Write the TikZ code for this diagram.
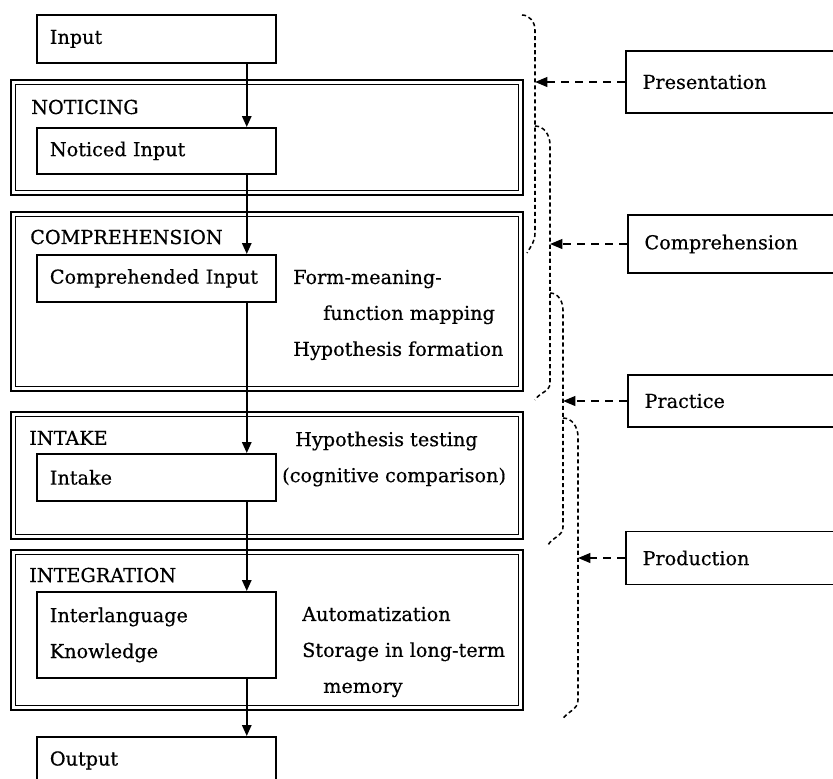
\documentclass[tikz,border=0pt]{standalone}
\usepackage{fontspec}
\setmainfont{DejaVu Serif}
\newfontfamily\diagfam{DejaVu Serif}[FakeBold=0.5]
\usetikzlibrary{arrows.meta}

\newcommand\diagfont{\diagfam\fontsize{16.4pt}{30.7pt}\selectfont}

\begin{document}
\begin{tikzpicture}[x=0.03cm, y=-0.03cm,
    box/.style={draw, line width=1.5pt, anchor=north west, minimum width=7.17cm,
      text width=6.39cm, inner xsep=0.39cm, inner ysep=0pt, align=left, font=\diagfont},
    sidebox/.style={draw, line width=1.5pt, anchor=west, text width=6.5cm,
      inner xsep=0.5cm, inner ysep=0pt, align=left, font=\diagfont},
    stagelabel/.style={anchor=west, inner sep=0pt, font=\diagfont},
    note/.style={anchor=west, inner sep=0pt, align=left, font=\diagfont},
    frameouter/.style={line width=2pt},
    frameinner/.style={line width=0.9pt},
    flow/.style={line width=1.7pt, -{Triangle[length=0.33cm,width=0.28cm]}},
    brace/.style={line width=1.3pt, dash pattern=on 3.5pt off 2.5pt},
    hint/.style={line width=1.7pt, dash pattern=on 7pt off 5pt,
      -{Triangle[length=0.37cm,width=0.29cm]}}
  ]
  \useasboundingbox (0,0) rectangle (833,779);
  \clip (0,0) rectangle (833,779);

  % stage frames
  \foreach \ytop/\ybot in {80/195, 212/391, 412/539, 550/710} {
    \draw[frameouter] (11,\ytop) rectangle (523,\ybot);
    \draw[frameinner] (15.5,{\ytop+4.5}) rectangle (518.5,{\ybot-4.5});
  }
  \node[stagelabel] (noticing) at (31,107) {NOTICING};
  \node[stagelabel] (comprehension) at (30,237) {COMPREHENSION};
  \node[stagelabel] (intakelbl) at (29,438) {INTAKE};
  \node[stagelabel] (integration) at (29,575) {INTEGRATION};

  % left column
  \node[box, minimum height=1.44cm] (in) at (36,14) {Input};
  \node[box, minimum height=1.38cm] (noticed) at (36,127) {Noticed Input};
  \node[box, minimum height=1.41cm] (compr) at (36,254) {Comprehended Input};
  \node[box, minimum height=1.41cm] (intake) at (36,453) {Intake};
  \node[box, minimum height=2.58cm] (ilk) at (36,591) {Interlanguage\\Knowledge};
  \node[box, minimum height=1.41cm] (out) at (36,736) {Output};

  \draw[flow] ([xshift=-0.9cm]in.south east) -- ([xshift=-0.9cm]noticed.north east);
  \draw[flow] ([xshift=-0.9cm]noticed.south east) -- ([xshift=-0.9cm]compr.north east);
  \draw[flow] ([xshift=-0.9cm]compr.south east) -- ([xshift=-0.9cm]intake.north east);
  \draw[flow] ([xshift=-0.9cm]intake.south east) -- ([xshift=-0.9cm]ilk.north east);
  \draw[flow] ([xshift=-0.9cm]ilk.south east) -- ([xshift=-0.9cm]out.north east);

  % processes inside the stages
  \node[note] (mapping) at (293,315)
    {Form-meaning-\\\hspace*{0.9cm}function mapping\\Hypothesis formation};
  \node[note] (testing) at (282,459)
    {\hspace*{0.39cm}Hypothesis testing\\(cognitive comparison)};
  \node[note] (storage) at (302,652)
    {Automatization\\Storage in long-term\\\hspace*{0.63cm}memory};

  % brackets of the four activities
  \draw[brace] (522,15) to[out=0,in=90] (535,30) -- (535,233) to[out=-90,in=60] (527,253);
  \draw[brace] (535,126) to[out=0,in=90] (550,145) -- (550,383) to[out=-90,in=60] (535,400);
  \draw[brace] (550,293) to[out=0,in=90] (563,310) -- (563,527) to[out=-90,in=60] (548,545);
  \draw[brace] (563,418) to[out=0,in=90] (578,437) -- (578,700) to[out=-90,in=60] (562,720);
  \coordinate (presbrace) at (535,82);
  \coordinate (combrace) at (550,244);
  \coordinate (pracbrace) at (563,401);
  \coordinate (prodbrace) at (578,558);

  % activities
  \node[sidebox, minimum height=1.86cm] (pres) at (625,82) {Presentation};
  \node[sidebox, minimum height=1.74cm] (com) at (627,244) {Comprehension};
  \node[sidebox, minimum height=1.56cm] (prac) at (627,401) {Practice};
  \node[sidebox, minimum height=1.59cm] (prod) at (625,558) {Production};

  \draw[hint] (pres.west) -- (presbrace);
  \draw[hint] (com.west) -- (combrace);
  \draw[hint] (prac.west) -- (pracbrace);
  \draw[hint] (prod.west) -- (prodbrace);
\end{tikzpicture}
\end{document}
